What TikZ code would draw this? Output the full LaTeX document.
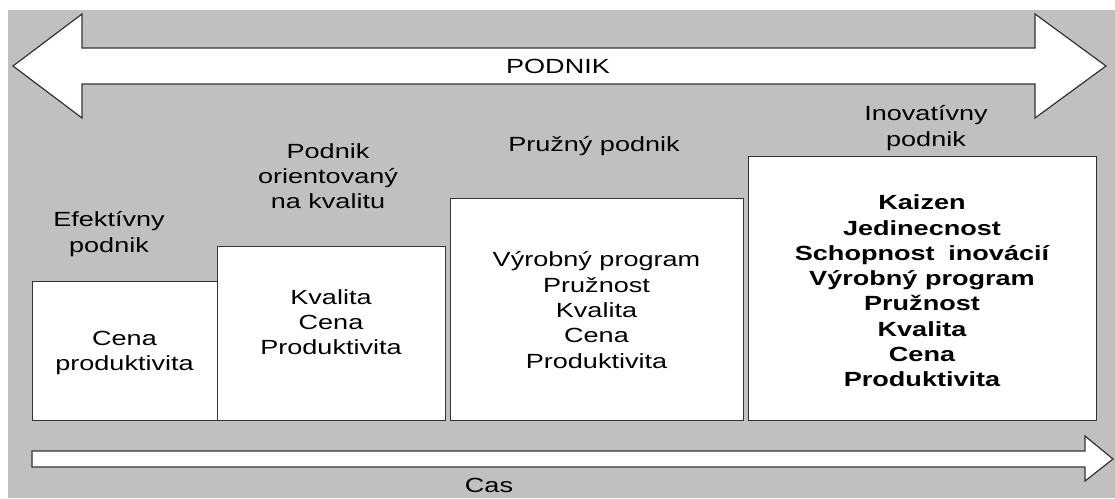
\documentclass[tikz,border=0pt]{standalone}
\usepackage{fontspec}
\setmainfont{Liberation Sans}[FakeStretch=1.32]
\definecolor{bggray}{HTML}{C0C0C0}
\definecolor{edge}{HTML}{333333}

\begin{document}
\begin{tikzpicture}[x=1pt, y=-1pt,
		box/.style={draw=edge, fill=white, line width=1.2pt, anchor=south west, inner sep=0pt},
		txt/.style={align=center, font=\fontsize{20.5}{25.3}\selectfont, inner sep=0pt},
		arr/.style={draw=edge, fill=white, line width=1.2pt}]
				\useasboundingbox (0,0) rectangle (1115,498);
				\fill[bggray] (8,10) rectangle (1115,498);
				\filldraw[arr] (13,66) -- (82,14) -- (82,48) -- (1035,48) -- (1035,14) -- (1106,66)
					-- (1035,118) -- (1035,84) -- (82,84) -- (82,118) -- cycle;
				\filldraw[arr] (32,451) -- (1085,451) -- (1085,436) -- (1113,459) -- (1085,481)
					-- (1085,467) -- (32,467) -- cycle;
				\node[txt] (p) at (558,66) {PODNIK};
				\node[txt] (c) at (489,485) {Cas};
				\node[box, minimum width=185, minimum height=139] (b1) at ( 32,421) {};
				\node[box, minimum width=228, minimum height=174] (b2) at (217,421) {};
				\node[box, minimum width=293, minimum height=222] (b3) at (450,421) {};
				\node[box, minimum width=348, minimum height=264] (b4) at (748,421) {};
				\node[txt] (l1) at (109,234) {Efektívny\\podnik};
				\node[txt] (l2) at (328,176) {Podnik\\orientovaný\\na kvalitu};
				\node[txt] (l3) at (594,146) {Pružný podnik};
				\node[txt] (l4) at (926,128) {Inovatívny\\podnik};
				\node[txt] (t1) at (124.5,353) {Cena\\produktivita};
				\node[txt] (t2) at (331,322) {Kvalita\\Cena\\Produktivita};
				\node[txt] (t3) at (596.5,310) {Výrobný program\\Pružnost\\Kvalita\\Cena\\Produktivita};
				\node[txt, font=\fontsize{20.5}{25.3}\selectfont\bfseries] (t4) at (922,291)
					{Kaizen\\Jedinecnost\\Schopnost\hspace{.3em} inovácií\\Výrobný program\\Pružnost\\Kvalita\\Cena\\Produktivita};
\end{tikzpicture}
\end{document}
